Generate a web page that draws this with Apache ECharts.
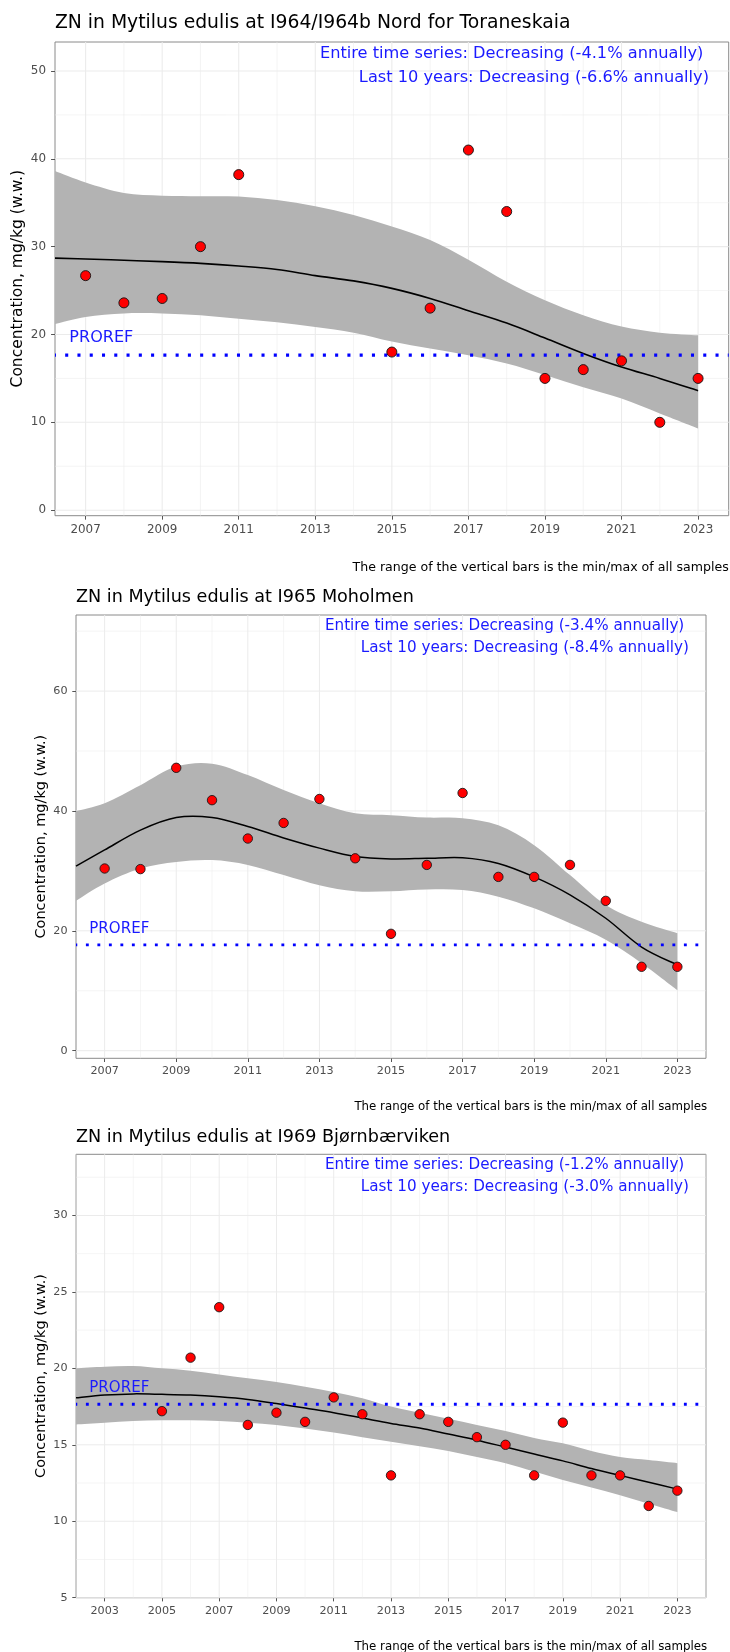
<!DOCTYPE html>
<html><head><meta charset="utf-8">
<script src="https://cdn.jsdelivr.net/npm/echarts@6/dist/echarts.min.js"></script>
<style>html,body{margin:0;padding:0;background:#fff}#c{width:730px;height:1652px}</style>
</head><body><div id="c"></div>
<script>
// ---------------- DATA ----------------
const proref = 17.65;
const yTitle = 'Concentration, mg/kg (w.w.)';
const footer = 'The range of the vertical bars is the min/max of all samples';

// Panel 1
const p1Title = 'ZN in Mytilus edulis at I964/I964b Nord for Toraneskaia';
const p1Annot = ['Entire time series: Decreasing (-4.1% annually)', 'Last 10 years: Decreasing (-6.6% annually)'];
const p1Years = [2007, 2008, 2009, 2010, 2011, 2015, 2016, 2017, 2018, 2019, 2020, 2021, 2022, 2023];
const p1Values = [26.7, 23.6, 24.1, 30.0, 38.2, 18.0, 23.0, 41.0, 34.0, 15.0, 16.0, 17.0, 10.0, 15.0];
const p1SmoothYears = [2006.2, 2007, 2008, 2009, 2010, 2011, 2012, 2013, 2014, 2015, 2016, 2017, 2018, 2019, 2020, 2021, 2022, 2023];
const p1Fit   = [28.7, 28.6, 28.45, 28.3, 28.1, 27.8, 27.4, 26.7, 26.1, 25.25, 24.1, 22.7, 21.3, 19.6, 17.85, 16.3, 15.0, 13.6];
const p1Lower = [21.2, 22.0, 22.4, 22.4, 22.2, 21.8, 21.4, 20.85, 20.2, 19.2, 18.4, 17.65, 16.7, 15.4, 14.0, 12.7, 11.0, 9.3];
const p1Upper = [38.6, 37.3, 36.1, 35.8, 35.75, 35.7, 35.3, 34.6, 33.6, 32.3, 30.75, 28.5, 26.0, 23.9, 22.2, 20.9, 20.2, 19.9];
const p1XTicks = [2007, 2009, 2011, 2013, 2015, 2017, 2019, 2021, 2023];
const p1XMinor = [2008, 2010, 2012, 2014, 2016, 2018, 2020, 2022];
const p1YTicks = [0, 10, 20, 30, 40, 50];
const p1YMinor = [5, 15, 25, 35, 45];

// Panel 2
const p2Title = 'ZN in Mytilus edulis at I965 Moholmen';
const p2Annot = ['Entire time series: Decreasing (-3.4% annually)', 'Last 10 years: Decreasing (-8.4% annually)'];
const p2Years = [2007, 2008, 2009, 2010, 2011, 2012, 2013, 2014, 2015, 2016, 2017, 2018, 2019, 2020, 2021, 2022, 2023];
const p2Values = [30.4, 30.3, 47.2, 41.8, 35.4, 38.0, 42.0, 32.1, 19.5, 31.0, 43.0, 29.0, 29.0, 31.0, 25.0, 14.0, 14.0];
const p2SmoothYears = [2006.2, 2007, 2008, 2009, 2010, 2011, 2012, 2013, 2014, 2015, 2016, 2017, 2018, 2019, 2020, 2021, 2022, 2023];
const p2Fit   = [30.8, 33.5, 36.8, 38.9, 38.9, 37.4, 35.5, 33.8, 32.4, 32.0, 32.1, 32.2, 31.25, 29.0, 26.0, 22.1, 17.3, 14.3];
const p2Lower = [25.0, 27.9, 30.4, 31.5, 31.8, 31.0, 29.3, 27.6, 26.6, 26.6, 26.9, 26.8, 25.7, 23.75, 21.25, 18.5, 14.6, 10.1];
const p2Upper = [40.0, 41.3, 44.3, 47.4, 47.9, 46.0, 43.5, 41.3, 39.6, 39.3, 38.9, 38.8, 37.6, 34.3, 29.3, 24.3, 21.5, 19.6];
const p2XTicks = [2007, 2009, 2011, 2013, 2015, 2017, 2019, 2021, 2023];
const p2XMinor = [2008, 2010, 2012, 2014, 2016, 2018, 2020, 2022];
const p2YTicks = [0, 20, 40, 60];
const p2YMinor = [10, 30, 50, 70];

// Panel 3
const p3Title = 'ZN in Mytilus edulis at I969 Bjørnbærviken';
const p3Annot = ['Entire time series: Decreasing (-1.2% annually)', 'Last 10 years: Decreasing (-3.0% annually)'];
const p3Years = [2005, 2006, 2007, 2008, 2009, 2010, 2011, 2012, 2013, 2014, 2015, 2016, 2017, 2018, 2019, 2020, 2021, 2022, 2023];
const p3Values = [17.2, 20.7, 24.0, 16.3, 17.1, 16.5, 18.1, 17.0, 13.0, 17.0, 16.5, 15.5, 15.0, 13.0, 16.45, 13.0, 13.0, 11.0, 12.0];
const p3SmoothYears = [2002, 2003, 2004, 2005, 2006, 2007, 2008, 2009, 2010, 2011, 2012, 2013, 2014, 2015, 2016, 2017, 2018, 2019, 2020, 2021, 2022, 2023];
const p3Fit   = [18.07, 18.25, 18.33, 18.3, 18.25, 18.14, 17.97, 17.7, 17.4, 17.1, 16.75, 16.4, 16.1, 15.7, 15.3, 14.85, 14.4, 13.95, 13.45, 13.0, 12.55, 12.1];
const p3Lower = [16.33, 16.44, 16.55, 16.6, 16.6, 16.55, 16.44, 16.3, 16.07, 15.8, 15.5, 15.2, 14.9, 14.6, 14.2, 13.8, 13.25, 12.7, 12.2, 11.7, 11.15, 10.6];
const p3Upper = [20.0, 20.1, 20.15, 20.0, 19.85, 19.6, 19.35, 19.1, 18.8, 18.46, 18.05, 17.5, 17.1, 16.7, 16.3, 15.9, 15.45, 15.1, 14.6, 14.2, 14.0, 13.8];
const p3XTicks = [2003, 2005, 2007, 2009, 2011, 2013, 2015, 2017, 2019, 2021, 2023];
const p3XMinor = [2002, 2004, 2006, 2008, 2010, 2012, 2014, 2016, 2018, 2020, 2022, 2024];
const p3YTicks = [5, 10, 15, 20, 25, 30];
const p3YMinor = [7.5, 12.5, 17.5, 22.5, 27.5, 32.5];

// ---------------- LAYOUT ----------------
const panels = [
  { title: p1Title, annot: p1Annot, years: p1Years, values: p1Values, sYears: p1SmoothYears, fit: p1Fit, lower: p1Lower, upper: p1Upper,
    xTicks: p1XTicks, xMinor: p1XMinor, yTicks: p1YTicks, yMinor: p1YMinor,
    g: { left: 55, top: 42, width: 673.7, height: 473.7 }, xr: [2006.2, 2023.8], yr: [-0.63, 53.3], k: 1.067,
    titlePos: [55, 23.4], annotPos: [[703.3, 54], [709, 77.3]], prorefPos: [69.3, 337.9], yTitlePos: [18.3, 278.7],
    footerPos: [728.7, 567.3], yLabelMargin: 9, xLabelMargin: 8, dashOffset: 2.1 },
  { title: p2Title, annot: p2Annot, years: p2Years, values: p2Values, sYears: p2SmoothYears, fit: p2Fit, lower: p2Lower, upper: p2Upper,
    xTicks: p2XTicks, xMinor: p2XMinor, yTicks: p2YTicks, yMinor: p2YMinor,
    g: { left: 76, top: 615, width: 630, height: 443.3 }, xr: [2006.2, 2023.8], yr: [-1.27, 72.7], k: 1,
    titlePos: [76, 597.7], annotPos: [[684.3, 626], [689, 648.3]], prorefPos: [89.3, 929], yTitlePos: [41.7, 836.7],
    footerPos: [707.2, 1106.7], yLabelMargin: 8.5, xLabelMargin: 7.5, dashOffset: 1.6 },
  { title: p3Title, annot: p3Annot, years: p3Years, values: p3Values, sYears: p3SmoothYears, fit: p3Fit, lower: p3Lower, upper: p3Upper,
    xTicks: p3XTicks, xMinor: p3XMinor, yTicks: p3YTicks, yMinor: p3YMinor,
    g: { left: 76, top: 1154.3, width: 630, height: 443.4 }, xr: [2002, 2024], yr: [5, 34], k: 1,
    titlePos: [76, 1137], annotPos: [[684.3, 1165], [689, 1187.3]], prorefPos: [89.3, 1387.7], yTitlePos: [41.7, 1376],
    footerPos: [707.2, 1646.7], yLabelMargin: 8.5, xLabelMargin: 7.5, dashOffset: 1.6 }
];
const base = { title: 17.6, annot: 15.2, axisTitle: 14.5, tick: 11.2, footer: 11.8, proref: 15.05, dot: 9.4, fitW: 1.5,
  major: 1, minor: 0.5, pitch: 11.5, dotW: 2.87, tickLen: 3.7 };
const FONT = '"DejaVu Sans"';
const BLUE = '#1a1aff';

const zip = (a, b) => a.map((v, i) => [v, b[i]]);

// Catmull-Rom spline through pixel points -> SVG path segments (without the initial move)
function crSegments(pts) {
  let d = '';
  const n = pts.length;
  for (let i = 0; i < n - 1; i++) {
    const p0 = pts[Math.max(i - 1, 0)], p1 = pts[i], p2 = pts[i + 1], p3 = pts[Math.min(i + 2, n - 1)];
    const c1x = p1[0] + (p2[0] - p0[0]) / 6, c1y = p1[1] + (p2[1] - p0[1]) / 6;
    const c2x = p2[0] - (p3[0] - p1[0]) / 6, c2y = p2[1] - (p3[1] - p1[1]) / 6;
    d += ' C' + c1x.toFixed(2) + ' ' + c1y.toFixed(2) + ' ' + c2x.toFixed(2) + ' ' + c2y.toFixed(2) + ' ' + p2[0].toFixed(2) + ' ' + p2[1].toFixed(2);
  }
  return d;
}

const option = { animation: false, grid: [], xAxis: [], yAxis: [], series: [], graphic: [] };

panels.forEach((p, i) => {
  const k = p.k;
  option.grid.push(Object.assign({ show: true, borderColor: '#8a8a8a', borderWidth: 1, backgroundColor: 'transparent', containLabel: false, z: 0 }, p.g));
  option.xAxis.push({
    type: 'value', gridIndex: i, min: p.xr[0], max: p.xr[1],
    axisLine: { show: false, onZero: false },
    axisTick: { show: true, customValues: p.xTicks, length: base.tickLen * k, lineStyle: { color: '#555', width: 1 } },
    axisLabel: { customValues: p.xTicks, formatter: v => String(v), fontFamily: 'DejaVu Sans', fontSize: base.tick * k, color: '#4D4D4D', margin: p.xLabelMargin },
    splitLine: { show: false }
  });
  option.yAxis.push({
    type: 'value', gridIndex: i, min: p.yr[0], max: p.yr[1],
    axisLine: { show: false, onZero: false },
    axisTick: { show: true, customValues: p.yTicks, length: base.tickLen * k, lineStyle: { color: '#555', width: 1 } },
    axisLabel: { customValues: p.yTicks, formatter: v => String(v), fontFamily: 'DejaVu Sans', fontSize: base.tick * k, color: '#4D4D4D', margin: p.yLabelMargin },
    splitLine: { show: false }
  });

  // grid lines: [value, direction(0 = vertical, 1 = horizontal), major(1)/minor(0)]
  const gl = [];
  p.xMinor.forEach(v => gl.push([v, 0, 0]));
  p.yMinor.forEach(v => gl.push([v, 1, 0]));
  p.xTicks.forEach(v => gl.push([v, 0, 1]));
  p.yTicks.forEach(v => gl.push([v, 1, 1]));
  option.series.push({
    type: 'custom', xAxisIndex: i, yAxisIndex: i, z: 1, silent: true, data: gl,
    encode: { x: 0, y: 1 },
    renderItem: function (params, api) {
      const cs = params.coordSys;
      const v = api.value(0), dir = api.value(1), major = api.value(2);
      let shape;
      if (dir === 0) {
        const x = api.coord([v, p.yr[0]])[0];
        shape = { x1: x, y1: cs.y, x2: x, y2: cs.y + cs.height };
      } else {
        const y = api.coord([p.xr[0], v])[1];
        shape = { x1: cs.x, y1: y, x2: cs.x + cs.width, y2: y };
      }
      return { type: 'line', shape: shape, style: { stroke: '#EBEBEB', lineWidth: (major ? base.major : base.minor) * k } };
    }
  });

  // confidence band + fitted curve (smooth path through the read values, placed by the axes)
  option.series.push({
    type: 'custom', xAxisIndex: i, yAxisIndex: i, z: 2, silent: true,
    data: p.sYears.map((x, j) => [x, p.lower[j], p.upper[j], p.fit[j]]),
    encode: { x: 0, y: [1, 2] },
    renderItem: function (params, api) {
      if (params.dataIndex !== 0) return null;
      const up = p.sYears.map((x, j) => api.coord([x, p.upper[j]]));
      const lo = p.sYears.map((x, j) => api.coord([x, p.lower[j]])).reverse();
      const ft = p.sYears.map((x, j) => api.coord([x, p.fit[j]]));
      const band = 'M' + up[0][0] + ' ' + up[0][1] + crSegments(up) + ' L' + lo[0][0] + ' ' + lo[0][1] + crSegments(lo) + ' Z';
      const line = 'M' + ft[0][0] + ' ' + ft[0][1] + crSegments(ft);
      return { type: 'group', children: [
        { type: 'path', shape: { pathData: band }, style: { fill: '#B3B3B3', stroke: null } },
        { type: 'path', shape: { pathData: line }, style: { fill: null, stroke: '#000', lineWidth: base.fitW * k } }
      ] };
    }
  });
  // PROREF
  option.series.push({
    type: 'line', xAxisIndex: i, yAxisIndex: i, z: 3, silent: true,
    data: [[p.xr[0], proref], [p.xr[1], proref]], showSymbol: false, symbol: 'none',
    lineStyle: { color: '#0000ff', width: base.dotW * k, type: [base.dotW * k, (base.pitch - base.dotW) * k], dashOffset: p.dashOffset, cap: 'butt' }
  });
  // points
  option.series.push({
    type: 'scatter', xAxisIndex: i, yAxisIndex: i, z: 4, silent: true,
    data: zip(p.years, p.values), symbol: 'circle', symbolSize: base.dot * k,
    itemStyle: { color: '#ff0000', borderColor: '#1a1a1a', borderWidth: 0.9 * k, opacity: 1 }
  });

  // texts
  option.graphic.push({ type: 'text', x: p.titlePos[0], y: p.titlePos[1], silent: true,
    style: { text: p.title, font: (base.title * k) + 'px ' + FONT, fill: '#000', align: 'left', verticalAlign: 'middle' } });
  p.annot.forEach((t, j) => option.graphic.push({ type: 'text', x: p.annotPos[j][0], y: p.annotPos[j][1], silent: true, z: 10,
    style: { text: t, font: (base.annot * k) + 'px ' + FONT, fill: BLUE, align: 'right', verticalAlign: 'middle' } }));
  option.graphic.push({ type: 'text', x: p.prorefPos[0], y: p.prorefPos[1], silent: true, z: 10,
    style: { text: 'PROREF', font: (base.proref * k) + 'px ' + FONT, fill: BLUE, align: 'left', verticalAlign: 'middle' } });
  option.graphic.push({ type: 'text', x: p.yTitlePos[0], y: p.yTitlePos[1], rotation: Math.PI / 2, silent: true,
    style: { text: yTitle, font: (base.axisTitle * k) + 'px ' + FONT, fill: '#000', align: 'center', verticalAlign: 'middle' } });
  option.graphic.push({ type: 'text', x: p.footerPos[0], y: p.footerPos[1], silent: true,
    style: { text: footer, font: (base.footer * k) + 'px ' + FONT, fill: '#000', align: 'right', verticalAlign: 'middle' } });
});

const chart = echarts.init(document.getElementById('c'), null, { renderer: 'canvas', width: 730, height: 1652 });
chart.setOption(option);
</script>
</body></html>
